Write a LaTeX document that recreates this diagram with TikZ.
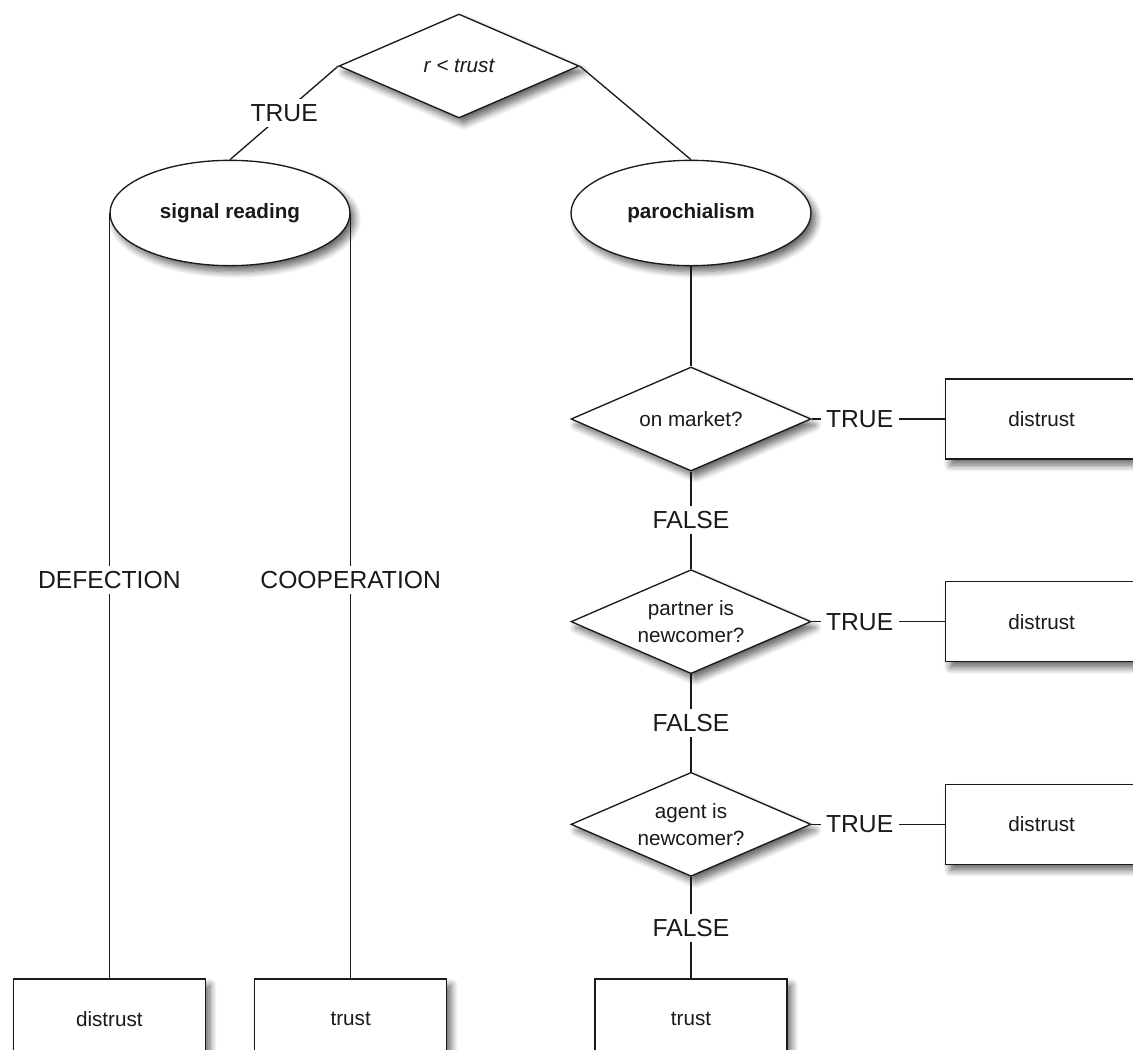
\documentclass[tikz,border=0pt]{standalone}
\usepackage{fontspec}
\setmainfont{Liberation Sans}
\usetikzlibrary{shapes.geometric,positioning,shadows.blur}
\definecolor{ink}{HTML}{1A1A1A}
\tikzset{
  base/.style={draw=ink, fill=white, line width=1pt, text=ink,
    blur shadow={shadow xshift=3.5pt, shadow yshift=-4.5pt, shadow blur radius=5pt,
      shadow blur steps=8, shadow opacity=60}},
  decision/.style={base, diamond, aspect=2.3, inner sep=0pt, minimum width=180pt,
    minimum height=78pt, align=center, font=\fontsize{15.5}{20}\selectfont},
  method/.style={base, ellipse, minimum width=180pt, minimum height=79pt,
    font=\fontsize{15.5}{18}\selectfont\bfseries},
  outcome/.style={base, rectangle, minimum width=144pt, minimum height=60pt,
    font=\fontsize{15.5}{18}\selectfont},
  link/.style={draw=ink, line width=1pt},
  branch/.style={fill=white, inner sep=4pt, text=ink,
    font=\fontsize{18.5}{21}\selectfont},
}

\begin{document}
\begin{tikzpicture}[x=0.75pt, y=-0.75pt]
\useasboundingbox (0,0) rectangle (1133,1050);

\node[decision] (test) at (459,66) {\itshape r < trust};
\node[method] (sigread) at (230,213) {signal reading};
\node[method] (paroch) at (691,213) {parochialism};

\node[decision, below=75pt of paroch] (market) {on market?};
\node[decision, below=73pt of market] (partner) {partner is\\newcomer?};
\node[decision, below=73pt of partner] (agent) {agent is\\newcomer?};
\node[outcome, below=76pt of agent] (trustbox) {trust};

\node[outcome, right=100pt of market] (dist1) {distrust};
\node[outcome, right=100pt of partner] (dist2) {distrust};
\node[outcome, right=100pt of agent] (dist3) {distrust};

\node[outcome] (defbox) at (sigread.west |- trustbox) {distrust};
\node[outcome] (coopbox) at (sigread.east |- trustbox) {trust};

\draw[link] (test.west) -- node[branch] {TRUE} (sigread.north);
\draw[link] (test.east) -- (paroch.north);
\draw[link] (sigread.west) -- node[branch, pos=0.48] {DEFECTION} (defbox.north);
\draw[link] (sigread.east) -- node[branch, pos=0.48] {COOPERATION} (coopbox.north);

\draw[link] (paroch) -- (market);
\draw[link] (market) -- node[branch] {FALSE} (partner);
\draw[link] (partner) -- node[branch] {FALSE} (agent);
\draw[link] (agent) -- node[branch] {FALSE} (trustbox);

\draw[link] (market.east) -- node[branch, pos=0.36] {TRUE} (dist1);
\draw[link] (partner.east) -- node[branch, pos=0.36] {TRUE} (dist2);
\draw[link] (agent.east) -- node[branch, pos=0.36] {TRUE} (dist3);

\end{tikzpicture}
\end{document}
